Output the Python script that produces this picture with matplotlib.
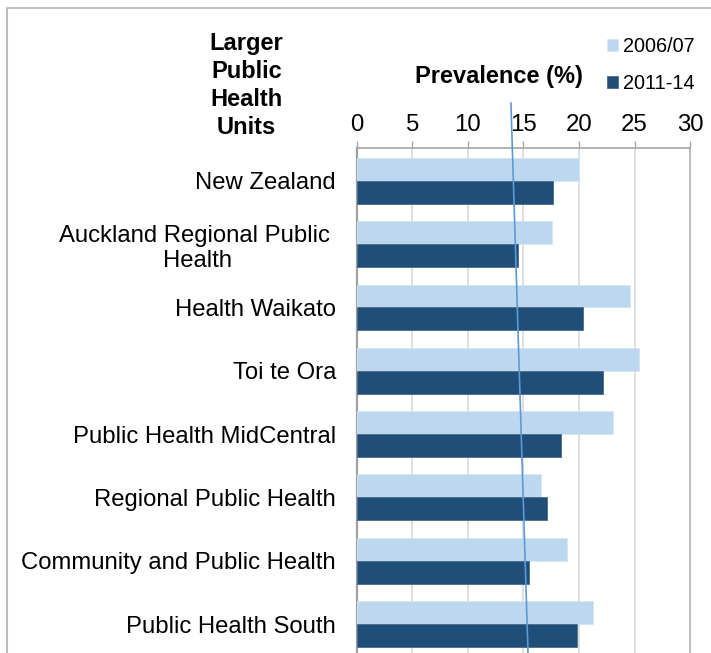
import numpy as np
import matplotlib
matplotlib.use("Agg")
import matplotlib.pyplot as plt
from matplotlib.lines import Line2D

plt.rcParams['font.family'] = ['Liberation Sans', 'DejaVu Sans']

units = [
    "New Zealand",
    "Auckland Regional Public \nHealth",
    "Health Waikato",
    "Toi te Ora",
    "Public Health MidCentral",
    "Regional Public Health",
    "Community and Public Health",
    "Public Health South",
]
prev_2006 = [20.0, 17.6, 24.6, 25.4, 23.1, 16.6, 18.9, 21.3]
prev_2011 = [17.7, 14.5, 20.4, 22.2, 18.4, 17.1, 15.5, 19.8]
series_labels = ["2006/07", "2011-14"]
x_ticks = [0, 5, 10, 15, 20, 25, 30]

# stray slanted line on the original chart (data units)
stray_x = [13.87, 15.41]
stray_y = [-1.23, 7.46]

light = "#BDD7EE"
dark = "#1F4E79"

fig = plt.figure(figsize=(7.11, 6.53), dpi=100)
ax = fig.add_axes([0.502, -0.0041, 0.4685, 0.7775])

y = np.arange(len(units))
h = 0.363
b1 = ax.barh(y - h / 2, prev_2006, height=h, color=light, edgecolor="#D6E6F5",
             linewidth=0.6, label=series_labels[0], zorder=3)
b2 = ax.barh(y + h / 2, prev_2011, height=h, color=dark, edgecolor="#4A6A8A",
             linewidth=0.6, label=series_labels[1], zorder=3)

ax.set_xlim(0, 30)
ax.set_ylim(7.5, -0.52)
ax.xaxis.tick_top()
ax.set_xticks(x_ticks)
ax.set_xticklabels([str(t) for t in x_ticks])
ax.tick_params(axis='x', length=5, width=1, color="#A6A6A6", labelsize=17.3, pad=3.5)
ax.set_yticks(y)
ax.set_yticklabels(units, fontsize=17.2, multialignment='center')
ax.tick_params(axis='y', length=0, pad=15)

ax.grid(axis='x', color="#D9D9D9", linewidth=1.2, zorder=0)
ax.set_axisbelow(True)
ax.spines["bottom"].set_visible(False)
ax.spines["top"].set_color("#A6A6A6")
ax.spines["top"].set_linewidth(1.2)
ax.spines["left"].set_color("#A0A0A0")
ax.spines["left"].set_linewidth(1.6)
ax.spines["right"].set_color("#BFBFBF")
ax.spines["right"].set_linewidth(1.4)

ax.plot(stray_x, stray_y, color="#5B9BD5", linewidth=1.2, clip_on=False, zorder=5)

fig.text(246.5 / 711, 1 - 85.5 / 653, "Larger\nPublic\nHealth\nUnits", ha='center',
         va='center', fontsize=17, fontweight='bold', linespacing=1.29)
fig.text(498.5 / 711, 1 - 76 / 653, "Prevalence (%)", ha='center', va='center',
         fontsize=17, fontweight='bold')

fig.legend(handles=[b1, b2], labels=series_labels, loc='upper left',
           bbox_to_anchor=(607 / 711, 1 - 37 / 653), frameon=False, fontsize=14.3,
           handlelength=0.55, handleheight=0.55, handletextpad=0.28,
           labelspacing=0.9, borderpad=0, borderaxespad=0)

# outer frame (left and top edges visible)
fig.add_artist(Line2D([6.5 / 711, 6.5 / 711, 1.0], [0, 1 - 8 / 653, 1 - 8 / 653],
                      transform=fig.transFigure, color="#BFBFBF", linewidth=1.5))

fig.savefig("out.png", dpi=100)
